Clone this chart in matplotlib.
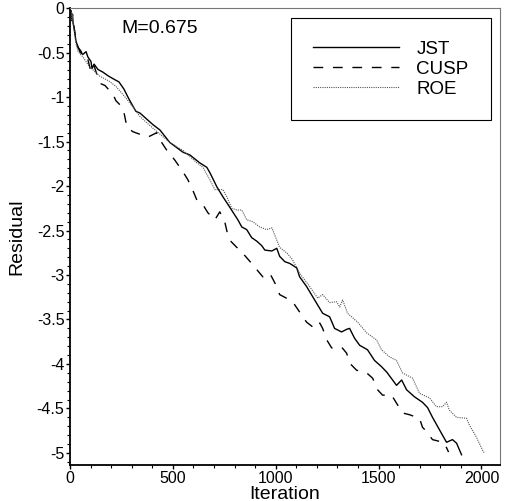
import matplotlib
matplotlib.use('Agg')
import matplotlib.pyplot as plt
from matplotlib.ticker import MultipleLocator, FuncFormatter

# values
jst_x = [0, 3, 6, 9, 12, 15, 20, 29, 39, 50, 63, 78, 87, 102, 107, 117, 136, 160, 184, 214, 238,
         262, 286, 320, 340, 403, 437, 485, 549, 582, 631, 665, 680, 714, 743, 777, 816, 835,
         859, 883, 908, 932, 947, 981, 1005, 1019, 1044, 1068, 1102, 1116, 1150, 1189, 1228,
         1262, 1286, 1320, 1345, 1359, 1383, 1408, 1446, 1480, 1514, 1539, 1568, 1587, 1612,
         1636, 1675, 1713, 1738, 1762, 1796, 1830, 1859, 1879, 1903]
jst_y = [0.0, -0.08, -0.03, -0.14, -0.07, -0.17, -0.22, -0.37, -0.44, -0.50, -0.52, -0.49, -0.55,
         -0.60, -0.68, -0.63, -0.69, -0.72, -0.76, -0.80, -0.83, -0.91, -1.02, -1.16, -1.18,
         -1.31, -1.37, -1.51, -1.62, -1.65, -1.74, -1.79, -1.85, -2.01, -2.12, -2.24, -2.38,
         -2.46, -2.49, -2.58, -2.62, -2.67, -2.72, -2.73, -2.70, -2.79, -2.85, -2.87, -2.92,
         -3.02, -3.13, -3.28, -3.43, -3.47, -3.60, -3.64, -3.61, -3.60, -3.71, -3.79, -3.84,
         -3.96, -4.03, -4.09, -4.18, -4.24, -4.18, -4.29, -4.37, -4.43, -4.49, -4.60, -4.74,
         -4.88, -4.85, -4.89, -5.02]

cusp_x = [0, 3, 6, 9, 12, 15, 20, 29, 39, 49, 63, 83, 102, 117, 136, 150, 170, 209, 223, 248,
          262, 277, 306, 354, 379, 422, 437, 471, 510, 549, 573, 592, 617, 646, 670, 704, 728,
          752, 767, 777, 815, 849, 883, 908, 937, 971, 1005, 1019, 1068, 1082, 1126, 1150, 1189,
          1214, 1228, 1248, 1272, 1320, 1345, 1359, 1393, 1442, 1471, 1495, 1519, 1563, 1587,
          1616, 1650, 1699, 1713, 1733, 1762, 1796, 1820, 1840]
cusp_y = [0.0, -0.08, -0.03, -0.14, -0.07, -0.17, -0.22, -0.37, -0.44, -0.47, -0.52, -0.54, -0.72,
          -0.65, -0.78, -0.85, -0.87, -0.97, -1.04, -1.10, -1.17, -1.34, -1.39, -1.43, -1.45,
          -1.40, -1.48, -1.60, -1.71, -1.84, -1.93, -2.02, -2.16, -2.21, -2.30, -2.38, -2.29,
          -2.40, -2.55, -2.61, -2.70, -2.78, -2.87, -2.94, -3.02, -2.98, -3.13, -3.22, -3.28,
          -3.30, -3.45, -3.53, -3.60, -3.54, -3.60, -3.73, -3.82, -3.81, -3.88, -3.99, -4.07,
          -4.10, -4.16, -4.29, -4.35, -4.35, -4.44, -4.55, -4.57, -4.61, -4.71, -4.76, -4.85,
          -4.87, -4.89, -4.99]

roe_x = [0, 3, 6, 9, 12, 15, 20, 29, 39, 63, 92, 141, 189, 223, 257, 306, 340, 403, 485, 549,
         617, 646, 680, 704, 743, 762, 786, 811, 835, 859, 888, 922, 956, 981, 995, 1019, 1053,
         1082, 1116, 1165, 1204, 1228, 1262, 1296, 1311, 1325, 1349, 1398, 1442, 1490, 1514,
         1553, 1587, 1616, 1665, 1699, 1747, 1781, 1811, 1830, 1844, 1879, 1927, 1942, 1975,
         2005, 2014]
roe_y = [0.0, -0.08, -0.03, -0.14, -0.07, -0.17, -0.24, -0.40, -0.49, -0.55, -0.65, -0.76, -0.82,
         -0.88, -0.97, -1.11, -1.22, -1.35, -1.51, -1.60, -1.74, -1.79, -1.93, -2.04, -2.04,
         -2.12, -2.25, -2.27, -2.27, -2.38, -2.40, -2.46, -2.49, -2.47, -2.55, -2.69, -2.75,
         -2.83, -2.98, -3.13, -3.26, -3.22, -3.31, -3.30, -3.36, -3.28, -3.43, -3.53, -3.65,
         -3.73, -3.84, -3.92, -3.96, -4.10, -4.16, -4.33, -4.38, -4.48, -4.48, -4.43, -4.52,
         -4.60, -4.61, -4.69, -4.82, -4.97, -5.0]

x_ticks = [0, 500, 1000, 1500, 2000]
y_ticks = [0, -0.5, -1, -1.5, -2, -2.5, -3, -3.5, -4, -4.5, -5]

plt.rcParams['font.family'] = ['Liberation Sans', 'DejaVu Sans']
plt.rcParams['axes.unicode_minus'] = False

fig = plt.figure(figsize=(5.05, 5.01), dpi=100)
ax = fig.add_axes([0.1386, 0.0719, 0.8515, 0.912])

ax.plot(jst_x, jst_y, color='black', lw=1.0, solid_joinstyle='round', label='JST')
ax.plot(cusp_x, cusp_y, color='black', lw=1.0, linestyle=(0, (7, 7)),
        dash_joinstyle='round', label='CUSP')
ax.plot(roe_x, roe_y, color='#555555', lw=0.8, linestyle=(0, (1, 1)), label='ROE')

ax.set_xlim(0, 2090)
ax.set_ylim(-5.135, 0)
ax.set_xticks(x_ticks)
ax.set_yticks(y_ticks)
ax.xaxis.set_minor_locator(MultipleLocator(100))
ax.yaxis.set_minor_locator(MultipleLocator(0.1))
ax.yaxis.set_major_formatter(FuncFormatter(lambda v, p: '%g' % v))
ax.tick_params(which='major', direction='out', length=3, width=1, labelsize=11.5, pad=1)
ax.tick_params(which='minor', direction='out', length=2, width=0.8)

for side in ['left', 'bottom']:
    ax.spines[side].set_linewidth(1.3)
for side in ['top', 'right']:
    ax.spines[side].set_linewidth(0.8)
    ax.spines[side].set_color('#777777')

ax.set_xlabel('Iteration', fontsize=14, labelpad=0)
ax.set_ylabel('Residual', fontsize=14, labelpad=8)
ax.text(0.12, 0.955, 'M=0.675', transform=ax.transAxes, fontsize=14, va='center')

leg = ax.legend(loc='upper right', bbox_to_anchor=(0.979, 0.978), borderaxespad=0,
                fontsize=13.5, handlelength=4.6, handletextpad=0.9, borderpad=1.2,
                labelspacing=0.15, fancybox=False, edgecolor='black', framealpha=1)
leg.get_frame().set_linewidth(0.8)

fig.savefig('out.png', dpi=100)
